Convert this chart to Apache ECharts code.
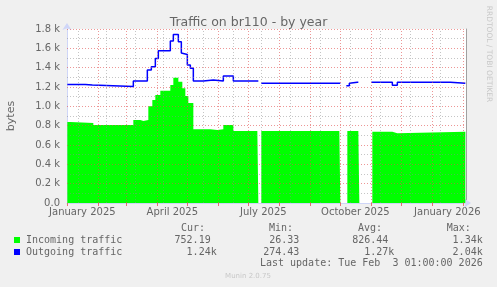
<!DOCTYPE html>
<html><head><meta charset="utf-8">
<script src="https://cdn.jsdelivr.net/npm/echarts@6/dist/echarts.min.js"></script>
<style>html,body{margin:0;padding:0;background:#F0F0F0}#c{width:497px;height:287px}</style>
</head><body><div id="c"></div>
<script>
// ---- data ----
const inDates = ['2025-01-01','2025-01-04','2025-01-27','2025-03-08','2025-03-15','2025-03-18','2025-03-23','2025-03-27','2025-03-30','2025-04-04','2025-04-14','2025-04-17','2025-04-22','2025-04-26','2025-04-29','2025-05-02','2025-05-07','2025-05-24','2025-05-31','2025-06-06','2025-06-16','2025-07-10','2025-07-11','2025-07-14','2025-09-30','2025-10-01','2025-10-08','2025-10-19','2025-10-20','2025-11-02','2025-11-22','2025-11-27','2026-02-03'];
const inValues = [837,827,806,858,848,858,1000,1065,1117,1160,1220,1295,1254,1186,1106,1034,762,755,762,806,745,745,null,745,745,null,745,745,null,738,721,738,738];
const outDates = ['2025-01-01','2025-01-19','2025-01-26','2025-03-08','2025-03-22','2025-03-26','2025-03-30','2025-04-02','2025-04-14','2025-04-17','2025-04-22','2025-04-25','2025-04-27','2025-05-01','2025-05-04','2025-05-07','2025-05-17','2025-05-27','2025-06-06','2025-06-16','2025-07-10','2025-07-11','2025-07-14','2025-09-30','2025-10-01','2025-10-07','2025-10-10','2025-10-11','2025-10-18','2025-10-19','2025-11-01','2025-11-22','2025-11-27','2026-01-19','2026-02-03'];
const outValues = [1227,1220,1206,1261,1375,1410,1496,1575,1675,1744,1668,1551,1537,1427,1393,1261,1272,1261,1313,1261,1261,null,1238,1238,null,1213,1238,1248,1248,null,1248,1217,1248,1238,1238];

const yTicks = [0,200,400,600,800,1000,1200,1400,1600,1800];
const yTickLabels = ['0.0','0.2 k','0.4 k','0.6 k','0.8 k','1.0 k','1.2 k','1.4 k','1.6 k','1.8 k'];
const yMinorTicks = [100,300,500,700,900,1100,1300,1500,1700];
const monthStarts = ['2025-01-01','2025-02-01','2025-03-01','2025-04-01','2025-05-01','2025-06-01','2025-07-01','2025-08-01','2025-09-01','2025-10-01','2025-11-01','2025-12-01','2026-01-01','2026-02-01'];
const minorDates = ['2025-01-12','2025-02-09','2025-03-10','2025-04-07','2025-05-17','2025-06-16','2025-07-14','2025-08-12','2025-09-11','2025-10-11','2025-11-10','2025-12-10','2026-01-09'];
const xLabelDates = ['2025-01-16','2025-04-16','2025-07-16','2025-10-16','2026-01-16'];
const xLabels = ['January 2025','April 2025','July 2025','October 2025','January 2026'];

const seriesNames = ['Incoming traffic','Outgoing traffic'];
const statHeaders = ['Cur:','Min:','Avg:','Max:'];
const inStats = ['752.19 ','26.33 ','826.44 ','1.34k'];
const outStats = ['1.24k','274.43 ','1.27k','2.04k'];
const lastUpdate = 'Last update: Tue Feb  3 01:00:00 2026';
const titleText = 'Traffic on br110 - by year';

// ---- helpers ----
function ts(s){ const p = s.split('-').map(Number); return Date.UTC(p[0], p[1]-1, p[2]); }
const xMin = Date.UTC(2024,11,31,16);
const xMax = Date.UTC(2026,1,3,16);
const inData = inDates.map((d,i)=>[ts(d), inValues[i]]);
const outData = outDates.map((d,i)=>[ts(d), outValues[i]]);
const labelTs = xLabelDates.map(ts);

const majorStyle = {color:'rgba(225,80,80,0.6)', type:[1,2], width:1};
const minorStyle = {color:'rgba(140,140,140,0.5)', type:[1,2], width:1};
const gridLines = []
  .concat(minorDates.map(d=>({xAxis: ts(d), lineStyle: minorStyle})))
  .concat(yMinorTicks.map(v=>({yAxis: v, lineStyle: minorStyle})))
  .concat(monthStarts.slice(1).map(d=>({xAxis: ts(d), lineStyle: majorStyle})))
  .concat(yTicks.slice(1).map(v=>({yAxis: v, lineStyle: majorStyle})));

const fontColor = '#666666';
const monoFont = '10px "DejaVu Sans Mono"';
const colEnds = [216.7, 305.3, 394.3, 482.7];
const headerX = [181, 269, 358, 446.7];

const graphics = [
  {type:'text', x:11, y:116, rotation:Math.PI/2, style:{text:'bytes', font:'11px "DejaVu Sans"', fill:fontColor, textAlign:'center', textVerticalAlign:'middle', align:'center', verticalAlign:'middle'}},
  {type:'text', x:488.5, y:54, rotation:-Math.PI/2, style:{text:'RRDTOOL / TOBI OETIKER', font:'7.5px "DejaVu Sans"', fill:'#C8C8C8', textAlign:'center', textVerticalAlign:'middle', align:'center', verticalAlign:'middle'}},
  {type:'rect', shape:{x:14, y:237, width:6, height:6}, style:{fill:'#00FF00'}},
  {type:'rect', shape:{x:14, y:249, width:6, height:6}, style:{fill:'#0000FF'}},
  {type:'text', x:26, y:240, style:{text:seriesNames[0], font:monoFont, fill:fontColor, textVerticalAlign:'middle', verticalAlign:'middle'}},
  {type:'text', x:26, y:252, style:{text:seriesNames[1], font:monoFont, fill:fontColor, textVerticalAlign:'middle', verticalAlign:'middle'}},
  {type:'text', x:482.7, y:263.5, style:{text:lastUpdate, font:monoFont, fill:fontColor, textAlign:'right', align:'right', textVerticalAlign:'middle', verticalAlign:'middle'}},
  {type:'text', x:248, y:276, style:{text:'Munin 2.0.75', font:'7px "DejaVu Sans"', fill:'#C8C8C8', textAlign:'center', align:'center', textVerticalAlign:'middle', verticalAlign:'middle'}}
];
statHeaders.forEach((h,i)=>graphics.push({type:'text', x:headerX[i], y:228, style:{text:h, font:monoFont, fill:fontColor, textVerticalAlign:'middle', verticalAlign:'middle'}}));
inStats.forEach((s,i)=>graphics.push({type:'text', x:colEnds[i], y:240, style:{text:s, font:monoFont, fill:fontColor, textAlign:'right', align:'right', textVerticalAlign:'middle', verticalAlign:'middle'}}));
outStats.forEach((s,i)=>graphics.push({type:'text', x:colEnds[i], y:252, style:{text:s, font:monoFont, fill:fontColor, textAlign:'right', align:'right', textVerticalAlign:'middle', verticalAlign:'middle'}}));

const chart = echarts.init(document.getElementById('c'));
chart.setOption({
  animation:false,
  backgroundColor:'#F0F0F0',
  title:{text:titleText, left:'center', top:11, textStyle:{fontSize:12.5, fontWeight:'normal', color:fontColor, fontFamily:'DejaVu Sans'}},
  grid:{left:67, top:29, width:399, height:174, show:true, backgroundColor:'#FFFFFF', borderWidth:0},
  xAxis:{
    type:'value', min:xMin, max:xMax,
    axisLine:{show:true, lineStyle:{color:'#CFD6F8', width:1}, symbol:['none','arrow'], symbolSize:[7,7], symbolOffset:[0,5]},
    axisTick:{show:true, length:3, customValues: monthStarts.map(ts), lineStyle:{color:'rgba(225,80,80,0.8)'}},
    axisLabel:{show:true, customValues: labelTs, margin:4, fontSize:10, color:fontColor, fontFamily:'DejaVu Sans',
      formatter:function(v){ const i = labelTs.indexOf(v); return i>=0 ? xLabels[i] : ''; }},
    splitLine:{show:false}, minorTick:{show:false}
  },
  yAxis:[{
    type:'value', min:0, max:1800, interval:200,
    axisLine:{show:true, lineStyle:{color:'#CFD6F8', width:1}, symbol:['none','arrow'], symbolSize:[7,7], symbolOffset:[0,6]},
    axisTick:{show:false},
    axisLabel:{margin:7, fontSize:10, color:fontColor, fontFamily:'DejaVu Sans',
      formatter:function(v){ const i = yTicks.indexOf(v); return i>=0 ? yTickLabels[i] : ''; }},
    splitLine:{show:false}
  },{
    type:'value', min:0, max:1800, position:'right',
    axisLine:{show:true, lineStyle:{color:'#A0A0A0', width:1}},
    axisTick:{show:false}, axisLabel:{show:false}, splitLine:{show:false}
  }],
  series:[
    {name:seriesNames[0], type:'line', step:'end', data:inData, showSymbol:false, symbol:'none', connectNulls:false,
      lineStyle:{width:0, color:'#00FF00'}, areaStyle:{color:'#00FF00', opacity:1}, z:2, silent:true},
    {name:'grid', type:'line', data:[], z:3, silent:true,
      markLine:{silent:true, symbol:['none','none'], label:{show:false}, emphasis:{disabled:true}, animation:false, data:gridLines}},
    {name:seriesNames[1], type:'line', step:'end', data:outData, showSymbol:false, symbol:'none', connectNulls:false,
      lineStyle:{width:1.5, color:'#0000FF'}, z:4, silent:true}
  ],
  graphic:graphics
});
</script>
</body></html>
